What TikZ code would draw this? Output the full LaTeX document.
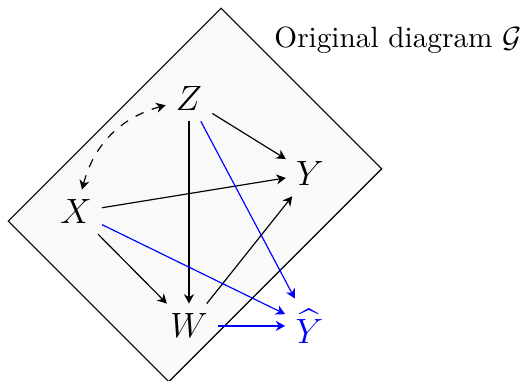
\documentclass[tikz,border=0pt]{standalone}
\usepackage{amsmath,amssymb}
\usepackage{tikz}
\usetikzlibrary{arrows.meta,positioning}

\begin{document}
\begin{tikzpicture}[>={Stealth[length=3.2pt,width=3.4pt,inset=1pt]},every node/.style={font=\large}]
\useasboundingbox (0,0) rectangle (6.27,4.576);
% tilted panel behind the graph
\draw[fill=black!2.5,rotate around={45:(2.342,2.234)}] (2.342-1.808,2.234-1.364) rectangle (2.342+1.808,2.234+1.364);
\node[anchor=base east,inner sep=0pt,font=\normalsize] (title) at (6.27,4.01) {Original diagram $\mathcal{G}$};
% variables
\node (X) at (0.913,2.030) {$X$};
\node (Z) at (2.270,3.387) {$Z$};
\node (Y) at (3.723,2.486) {$Y$};
\node (W) at (2.270,0.661) {$W$};
\node[blue] (Yh) at (3.715,0.661) {$\widehat{Y}$};
% edges of G
\draw[<->,dashed] (X) to[bend left=30] (Z);
\foreach \a/\b in {Z/Y,Z/W,X/Y,X/W,W/Y} \draw[->] (\a) -- (\b);
% edges into the predictor
\draw[->,blue] (Z) -- (Yh);
\draw[->,blue] (X) -- (Yh);
\draw[->,blue,semithick] (W) -- (Yh);
\end{tikzpicture}
\end{document}
